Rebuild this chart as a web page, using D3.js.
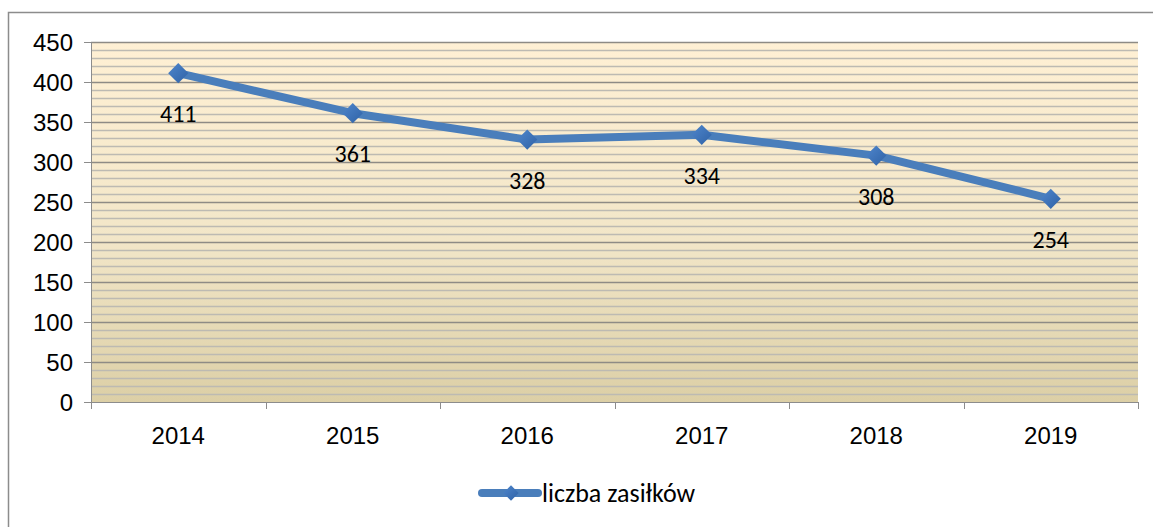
<!DOCTYPE html>
<html>
  <head>
    <meta charset="utf-8">
    <title>liczba zasiłków</title>
    <style>
      body { margin: 0; background: #fff; }
      svg { font-family: Carlito, Calibri, "Open Sans", sans-serif; }
      .frame { fill: none; stroke: #8c8c8c; stroke-width: 1.5; }
      .axis path, .axis line { stroke: #8c8c8c; shape-rendering: crispEdges; }
      .axis text { font-size: 24px; fill: #000; }
    </style>
  </head>
  <body>
    <div id="chart"></div>
    <script src="https://d3js.org/d3.v7.min.js"></script>
    <script>
      // Chart data
      var years = ["2014", "2015", "2016", "2017", "2018", "2019"];
      var benefits = [411, 361, 328, 334, 308, 254];
      var yTicks = [0, 50, 100, 150, 200, 250, 300, 350, 400, 450];
      var seriesName = "liczba zasiłków";

      var W = 1153, H = 527;
      var margin = {top: 42, right: 15, bottom: 125, left: 91};
      var width = 1138 - margin.left;
      var height = 402 - margin.top;

      var svg = d3.select("#chart").append("svg")
        .attr("width", W)
        .attr("height", H);

      // outer chart border (runs off the right and bottom)
      svg.append("rect")
        .attr("class", "frame")
        .attr("x", 8.5).attr("y", 12.5)
        .attr("width", W + 20).attr("height", H + 20);

      var defs = svg.append("defs");
      var grad = defs.append("linearGradient")
        .attr("id", "bg").attr("x1", 0).attr("y1", 0).attr("x2", 0).attr("y2", 1);
      grad.append("stop").attr("offset", "0%").attr("stop-color", "#fff0d4");
      grad.append("stop").attr("offset", "55%").attr("stop-color", "#f2e6c8");
      grad.append("stop").attr("offset", "100%").attr("stop-color", "#dccfa6");

      var mgrad = defs.append("linearGradient")
        .attr("id", "mk").attr("x1", 0).attr("y1", 0).attr("x2", 1).attr("y2", 1);
      mgrad.append("stop").attr("offset", "0%").attr("stop-color", "#4f86cc");
      mgrad.append("stop").attr("offset", "100%").attr("stop-color", "#2f62a6");

      var g = svg.append("g")
        .attr("transform", "translate(" + margin.left + "," + margin.top + ")");

      var x = d3.scaleBand().domain(years).range([0, width]);
      var y = d3.scaleLinear().domain([0, 450]).range([height, 0]);

      g.append("rect")
        .attr("width", width).attr("height", height)
        .attr("fill", "url(#bg)");

      // minor gridlines every 10
      g.append("g").selectAll("line")
        .data(d3.range(10, 450, 10).filter(function(v) { return v % 50 !== 0; }))
        .enter().append("line")
        .attr("x1", 0).attr("x2", width)
        .attr("y1", function(d) { return Math.round(y(d)) + 0.5; })
        .attr("y2", function(d) { return Math.round(y(d)) + 0.5; })
        .attr("stroke", "#bdbab2").attr("stroke-width", 1.5);

      // major gridlines
      g.append("g").selectAll("line")
        .data(yTicks.filter(function(v) { return v > 0; }))
        .enter().append("line")
        .attr("x1", 0).attr("x2", width)
        .attr("y1", function(d) { return Math.round(y(d)) + 0.5; })
        .attr("y2", function(d) { return Math.round(y(d)) + 0.5; })
        .attr("stroke", "#8e8b85").attr("stroke-width", 1.5);

      // y axis
      var yAxis = g.append("g").attr("class", "axis")
        .call(d3.axisLeft(y).tickValues(yTicks).tickSize(7).tickPadding(8));
      yAxis.select(".domain").attr("d", "M0.5," + height + "V0");
      yAxis.selectAll(".tick line").attr("stroke-width", 1.5);
      yAxis.selectAll("text").attr("dy", "0.36em").attr("dx", "-3");

      // x axis
      var xAxis = g.append("g").attr("class", "axis")
        .attr("transform", "translate(0," + height + ")")
        .call(d3.axisBottom(x).tickSize(0).tickPadding(25));
      xAxis.select(".domain").attr("d", "M0," + 0.5 + "H" + width);
      xAxis.selectAll(".domain").attr("stroke-width", 1.5);
      xAxis.selectAll(".boundary")
        .data(d3.range(years.length + 1))
        .enter().append("line")
        .attr("class", "boundary")
        .attr("x1", function(i) { return Math.round(i * x.bandwidth()) + 0.5; })
        .attr("x2", function(i) { return Math.round(i * x.bandwidth()) + 0.5; })
        .attr("y1", 0).attr("y2", 7)
        .attr("stroke", "#8c8c8c").attr("stroke-width", 1.5);

      var cx = function(d, i) { return x(years[i]) + x.bandwidth() / 2; };

      // series line
      var line = d3.line()
        .x(function(d, i) { return cx(d, i); })
        .y(function(d) { return y(d); });

      g.append("path")
        .datum(benefits)
        .attr("fill", "none")
        .attr("stroke", "#4a7ebb")
        .attr("stroke-width", 8)
        .attr("stroke-linejoin", "round")
        .attr("stroke-linecap", "round")
        .attr("d", line);

      // diamond markers
      var diamond = d3.symbol().type(d3.symbolDiamond2).size(260);
      g.selectAll(".marker")
        .data(benefits)
        .enter().append("path")
        .attr("class", "marker")
        .attr("transform", function(d, i) { return "translate(" + cx(d, i) + "," + y(d) + ")"; })
        .attr("d", diamond)
        .attr("fill", "url(#mk)");

      // data labels
      g.selectAll(".label")
        .data(benefits)
        .enter().append("text")
        .attr("class", "label")
        .attr("x", function(d, i) { return cx(d, i); })
        .attr("y", function(d) { return y(d) + 49; })
        .attr("text-anchor", "middle")
        .attr("font-size", 24)
        .text(function(d) { return d; });

      // legend
      var lg = svg.append("g").attr("transform", "translate(482,493)");
      lg.append("line")
        .attr("x1", 0).attr("x2", 56)
        .attr("y1", 0).attr("y2", 0)
        .attr("stroke", "#4a7ebb").attr("stroke-width", 8)
        .attr("stroke-linecap", "round");
      lg.append("path")
        .attr("transform", "translate(29,0)")
        .attr("d", d3.symbol().type(d3.symbolDiamond2).size(150))
        .attr("fill", "url(#mk)");
      lg.append("text")
        .attr("x", 60).attr("y", 0).attr("dy", "0.35em")
        .attr("font-size", 26)
        .text(seriesName);
    </script>
  </body>
</html>
